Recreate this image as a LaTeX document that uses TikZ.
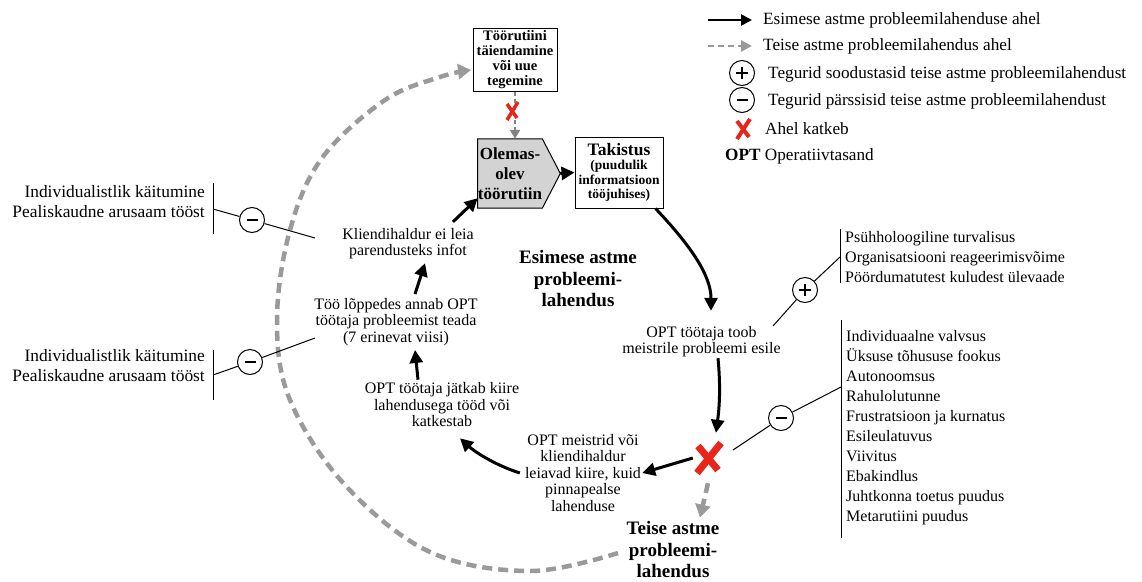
\documentclass[tikz,border=0pt]{standalone}
\usepackage{fontspec}
\setmainfont{Liberation Serif}
\usetikzlibrary{arrows.meta,calc}
\pgfdeclarelayer{background}
\pgfsetlayers{background,main}
\definecolor{dgray}{HTML}{9A9A9A}
\definecolor{pfill}{HTML}{D3D3D3}
\definecolor{xred}{HTML}{E8251B}
\tikzset{
  blackarrow/.style={line width=3pt,-{Triangle[length=13pt,width=13pt]}},
  dasharrow/.style={dgray,line width=4.5pt,dash pattern=on 10pt off 6pt,-{Triangle[length=13pt,width=15pt]}},
  legblack/.style={line width=2.5pt,-{Triangle[length=11pt,width=11pt]}},
  legdash/.style={dgray,line width=2.5pt,dash pattern=on 6pt off 4pt,-{Triangle[length=11pt,width=11pt]}},
  lab/.style={align=center,font=\fontsize{16}{16.5}\selectfont,inner sep=1pt},
  side/.style={align=right,font=\fontsize{17.4}{20}\selectfont,anchor=east,inner sep=0pt},
  lst/.style={align=left,font=\fontsize{16}{20}\selectfont,anchor=west,inner sep=0pt},
  legtext/.style={anchor=west,inner sep=0pt,font=\fontsize{17.2}{20}\selectfont},
  sign/.style={circle,draw,line width=1pt,fill=white,minimum size=25pt,inner sep=0pt},
  plussign/.style={sign,path picture={
     \draw[line width=2.2pt] ([xshift=-6pt]path picture bounding box.center) -- ([xshift=6pt]path picture bounding box.center);
     \draw[line width=2.2pt] ([yshift=-6pt]path picture bounding box.center) -- ([yshift=6pt]path picture bounding box.center);}},
  minussign/.style={sign,path picture={
     \draw[line width=2.8pt] ([xshift=-5.5pt]path picture bounding box.center) -- ([xshift=5.5pt]path picture bounding box.center);}},
  thinline/.style={line width=1pt},
  bigtitle/.style={align=center,inner sep=1pt,font=\bfseries\fontsize{19}{21.5}\selectfont},
  boxnode/.style={draw,line width=1pt,align=center,inner sep=1pt},
  bigx/.pic={\draw[xred,line width=7pt] (13,-15) -- (-11,15); \draw[xred,line width=7pt] (-10,-12) -- (10,12);},
  smallx/.pic={\draw[xred,line width=3.5pt] (6,-9) -- (-5,9); \draw[xred,line width=3.5pt] (-5,-7) -- (5,7);},
  legx/.pic={\draw[xred,line width=4pt] (7,-10) -- (-6,10); \draw[xred,line width=4pt] (-6,-8) -- (6,8);}
}
\begin{document}
\begin{tikzpicture}[x=1pt,y=-1pt]
\useasboundingbox (0,0) rectangle (1142,581);

% ---------- legend ----------
\coordinate (lga1) at (708,20); \coordinate (lgb1) at (752,20);
\draw[legblack] (lga1) -- (lgb1);
\node[legtext] (lt1) at (763,20) {Esimese astme probleemilahenduse ahel};
\coordinate (lga2) at (708,46); \coordinate (lgb2) at (752,46);
\draw[legdash] (lga2) -- (lgb2);
\node[legtext] (lt2) at (763,46) {Teise astme probleemilahendus ahel};
\node[plussign] (lgp) at (742,73) {};
\node[legtext] (lt3) at (768,74) {Tegurid soodustasid teise astme probleemilahendust};
\node[minussign] (lgm) at (742,100) {};
\node[legtext] (lt4) at (768,101) {Tegurid pärssisid teise astme probleemilahendust};
\coordinate (lgx) at (743,129);
\pic at (lgx) {legx};
\node[legtext] (lt5) at (765,129) {Ahel katkeb};
\node[legtext] (lt6) at (725,156) {\textbf{OPT} Operatiivtasand};

% ---------- main nodes ----------
\node[boxnode,minimum width=84pt,minimum height=63pt,font=\bfseries\fontsize{14.5}{15}\selectfont] (tr) at (515,59.5) {Töörutiini\\täiendamine\\või uue\\tegemine};
\node[align=center,inner sep=0pt,minimum width=64pt,minimum height=69pt,font=\bfseries\fontsize{17}{20}\selectfont] (ol) at (510,173.5) {Olemas-\\olev\\töörutiin};
\begin{pgfonlayer}{background}
\draw[fill=pfill,line width=1pt] (ol.north west) -- (ol.north east) -- ([xshift=18pt]ol.east) -- (ol.south east) -- (ol.south west) -- cycle;
\end{pgfonlayer}
\node[boxnode,minimum width=88pt,minimum height=71pt,font=\bfseries\fontsize{13.5}{14.5}\selectfont] (tak) at (619,172.5) {{\fontsize{17.5}{17}\selectfont Takistus}\\(puudulik\\informatsioon\\tööjuhises)};

\node[bigtitle] (esim) at (578,279) {Esimese astme\\probleemi-\\lahendus};
\node[bigtitle] (teise) at (673,550) {Teise astme\\probleemi-\\lahendus};

\node[lab] (opt1) at (701.5,341.5) {OPT töötaja toob\\meistrile probleemi esile};
\node[inner sep=0pt,minimum size=30pt] (bx) at (708,458) {};
\pic at (bx) {bigx};
\node[lab] (meist) at (583,473) {OPT meistrid või\\kliendihaldur\\leiavad kiire, kuid\\pinnapealse\\lahenduse};
\node[lab] (jatk) at (442,405) {OPT töötaja jätkab kiire\\lahendusega tööd või\\katkestab};
\node[lab] (too) at (396,322) {Töö lõppedes annab OPT\\töötaja probleemist teada\\(7 erinevat viisi)};
\node[lab] (klh) at (408,243.5) {Kliendihaldur ei leia\\parendusteks infot};

% ---------- first-order chain ----------
\coordinate (olin) at ([yshift=10pt]ol.south west);
\draw[blackarrow] ([xshift=45pt,yshift=5pt]klh.north) -- (olin);
\draw[blackarrow] ([xshift=18pt]ol.east) -- (tak.west);
\draw[blackarrow] ([xshift=-8pt]tak.south east) .. controls (690,245) and (711,275) .. ([xshift=9.5pt,yshift=14pt]opt1.north);
\draw[blackarrow] ([xshift=16.5pt]opt1.south) .. controls (721,390) and (719,410) .. ([xshift=8pt,yshift=10pt]bx.north);
\draw[blackarrow] (bx.west) -- (meist.east);
\draw[blackarrow] ([xshift=-4pt]meist.west) .. controls (495,465) and (475,452) .. ([xshift=18pt,yshift=-10pt]jatk.south);
\draw[blackarrow] ([xshift=-24pt,yshift=2pt]jatk.north) -- ([xshift=19pt,yshift=-3pt]too.south);
\draw[blackarrow] ([xshift=19pt,yshift=3pt]too.north) -- ([xshift=17pt,yshift=-3pt]klh.south);

% ---------- second-order chain ----------
\draw[dasharrow] ([yshift=-10pt]bx.south) -- ([xshift=27pt,yshift=3pt]teise.north);
\draw[dasharrow] plot[smooth,tension=0.6] coordinates {(618,553) (530,571) (430,552) (345,485) (290,400) (277,320) (290,230) (322,158) (385,100) (440,77) (471,70)};
\draw[dgray!85!black,line width=2pt,dash pattern=on 4pt off 3pt,-{Triangle[length=9pt,width=10pt]}] (tr.south) -- (tr.south |- ol.north);
\coordinate (sx) at (512,111);
\pic at (sx) {smallx};

% ---------- factors ----------
\coordinate (c1) at (315,238); \coordinate (b1) at (213,209);
\node[minussign] (m1) at (252,220) {};
\draw[thinline] (c1) -- (m1) -- (b1);
\draw[thinline] (213,183) -- (213,234);
\node[side] (s1) at (205,202) {Individualistlik käitumine\\Pealiskaudne arusaam tööst};

\coordinate (c2) at (315,338); \coordinate (b2) at (213,375);
\node[minussign] (m2) at (250,362) {};
\draw[thinline] (c2) -- (m2) -- (b2);
\draw[thinline] (213,350) -- (213,400);
\node[side] (s2) at (205,366) {Individualistlik käitumine\\Pealiskaudne arusaam tööst};

\coordinate (c3) at (773,326); \coordinate (b3) at (840,257);
\node[plussign] (p1) at (805,290) {};
\draw[thinline] (c3) -- (p1) -- (b3);
\draw[thinline] (840,229) -- (840,283);
\node[lst] (l1) at (845,257) {Psühholoogiline turvalisus\\Organisatsiooni reageerimisvõime\\Pöördumatutest kuludest ülevaade};

\coordinate (c4) at (733,450); \coordinate (b4) at (841,387);
\node[minussign] (m3) at (781,418) {};
\draw[thinline] (c4) -- (m3) -- (b4);
\draw[thinline] (841,320) -- (841,538);
\node[lst] (l2) at (846,428) {Individuaalne valvsus\\Üksuse tõhususe fookus\\Autonoomsus\\Rahulolutunne\\Frustratsioon ja kurnatus\\Esileulatuvus\\Viivitus\\Ebakindlus\\Juhtkonna toetus puudus\\Metarutiini puudus};
\end{tikzpicture}
\end{document}
